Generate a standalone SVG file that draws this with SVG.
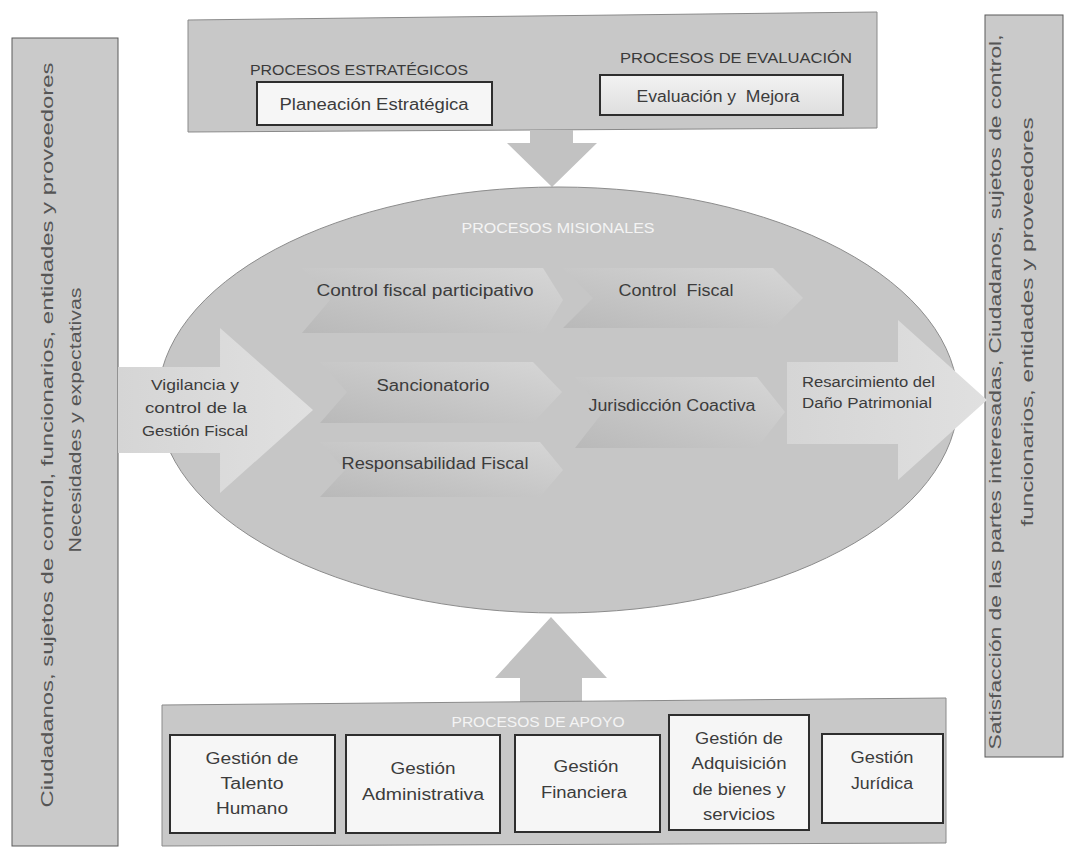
<svg xmlns="http://www.w3.org/2000/svg" width="1068" height="852" viewBox="0 0 1068 852">
<defs>
<linearGradient id="chev" x1="0" y1="1" x2="1" y2="0">
<stop offset="0" stop-color="#b9b9b9"/>
<stop offset="1" stop-color="#d6d6d6"/>
</linearGradient>
<linearGradient id="arr" x1="0" y1="0" x2="1" y2="0">
<stop offset="0" stop-color="#d5d5d5"/>
<stop offset="1" stop-color="#e0e0e0"/>
</linearGradient>
<linearGradient id="evalg" x1="0" y1="0" x2="0" y2="1">
<stop offset="0" stop-color="#f2f2f2"/>
<stop offset="1" stop-color="#dedede"/>
</linearGradient>
<style>
.bar{fill:#cacaca;stroke:#5a5a5a;stroke-width:1}
.band{fill:#c8c8c8;stroke:#8a8a8a;stroke-width:1}
.box{fill:#f6f6f6;stroke:#2e2e2e;stroke-width:2}
.chev{fill:url(#chev);stroke:none}
.bigarrow{fill:url(#arr);stroke:none}
.conn{fill:#c2c2c2;stroke:none}
text{font-family:"Liberation Sans",Arial,sans-serif;fill:#3c3c3c}
.cap{font-size:15px;fill:#3a3a3a}
.wcap{font-size:15px;fill:#f4f4f4}
.lbl{font-size:16px}
.side{font-size:17px;fill:#555555}
.mid{text-anchor:middle}
.pre{white-space:pre}
</style>
</defs>
<rect width="1068" height="852" fill="#ffffff"/>

<g id="stakeholders-left">
<rect class="bar" x="12" y="38" width="106" height="808"/>
<text class="side mid" transform="translate(53,435) rotate(-90)" textLength="745" lengthAdjust="spacingAndGlyphs">Ciudadanos, sujetos de control, funcionarios, entidades y proveedores</text>
<text class="side mid" transform="translate(81,420) rotate(-90)" textLength="265" lengthAdjust="spacingAndGlyphs">Necesidades y expectativas</text>
</g>

<g id="stakeholders-right">
<rect class="bar" x="985" y="15" width="78" height="742"/>
<text class="side mid" transform="translate(1001,392) rotate(-90)" textLength="715" lengthAdjust="spacingAndGlyphs">Satisfacción de las partes interesadas, Ciudadanos, sujetos de control,</text>
<text class="side mid" transform="translate(1033,322) rotate(-90)" textLength="409" lengthAdjust="spacingAndGlyphs">funcionarios, entidades y proveedores</text>
</g>

<g id="procesos-estrategicos-evaluacion">
<path class="band" d="M188 20 L877 12 L877 128 L188 132 Z"/>
<text class="cap" x="250" y="75" textLength="218" lengthAdjust="spacingAndGlyphs">PROCESOS ESTRATÉGICOS</text>
<text class="cap" x="620" y="63" textLength="232" lengthAdjust="spacingAndGlyphs">PROCESOS DE EVALUACIÓN</text>
</g>

<g id="planeacion-estrategica">
<rect class="box" x="257" y="82" width="235" height="43"/>
<text class="lbl mid" x="374" y="110" font-size="17" textLength="189" lengthAdjust="spacingAndGlyphs">Planeación Estratégica</text>
</g>

<g id="evaluacion-mejora">
<rect class="box" x="600" y="75" width="243" height="40" style="fill:url(#evalg)"/>
<text class="lbl mid pre" x="718" y="102" font-size="17" textLength="163" lengthAdjust="spacingAndGlyphs">Evaluación y  Mejora</text>
</g>

<g id="connectors">
<path class="conn" d="M530 130 L573 130 L573 143 L597 143 L552 187 L507 143 L530 143 Z"/>
<path class="conn" d="M520 703 L582 703 L582 678 L607 678 L551 617 L495 678 L520 678 Z"/>
</g>

<g id="procesos-misionales">
<ellipse cx="558" cy="400" rx="400" ry="213" fill="#c6c6c6" stroke="#8c8c8c" stroke-width="1"/>
<text class="wcap mid" x="558" y="233" textLength="193" lengthAdjust="spacingAndGlyphs">PROCESOS MISIONALES</text>
</g>

<g id="vigilancia-control">
<path class="bigarrow" d="M118 367 L220 367 L220 328 L313 410 L220 493 L220 453 L118 453 Z"/>
<text class="mid" x="195" y="390" font-size="15" textLength="88" lengthAdjust="spacingAndGlyphs">Vigilancia y</text>
<text class="mid" x="196" y="413" font-size="15" textLength="102" lengthAdjust="spacingAndGlyphs">control de la</text>
<text class="mid" x="195" y="436" font-size="15" textLength="106" lengthAdjust="spacingAndGlyphs">Gestión Fiscal</text>
</g>

<g id="control-fiscal-participativo">
<path class="chev" d="M302 268 L543 268 L563 300 L543 333 L302 333 L330 300 Z"/>
<text class="lbl mid" x="425" y="296" textLength="217" lengthAdjust="spacingAndGlyphs">Control fiscal participativo</text>
</g>

<g id="control-fiscal">
<path class="chev" d="M563 268 L773 268 L803 298 L773 328 L563 328 L593 298 Z"/>
<text class="lbl mid pre" x="676" y="296" textLength="115" lengthAdjust="spacingAndGlyphs">Control  Fiscal</text>
</g>

<g id="sancionatorio">
<path class="chev" d="M320 362 L533 362 L562 392 L533 423 L320 423 L347 392 Z"/>
<text class="lbl mid" x="433" y="391" textLength="113" lengthAdjust="spacingAndGlyphs">Sancionatorio</text>
</g>

<g id="jurisdiccion-coactiva">
<path class="chev" d="M575 377 L757 377 L785 412 L757 448 L575 448 L603 412 Z"/>
<text class="lbl mid" x="672" y="411" textLength="167" lengthAdjust="spacingAndGlyphs">Jurisdicción Coactiva</text>
</g>

<g id="responsabilidad-fiscal">
<path class="chev" d="M320 442 L540 442 L563 470 L540 497 L320 497 L345 470 Z"/>
<text class="lbl mid" x="435" y="469" textLength="187" lengthAdjust="spacingAndGlyphs">Responsabilidad Fiscal</text>
</g>

<g id="resarcimiento">
<path class="bigarrow" d="M787 362 L898 362 L898 320 L987 400 L898 480 L898 444 L787 444 Z"/>
<text x="802" y="387" font-size="14" textLength="133" lengthAdjust="spacingAndGlyphs">Resarcimiento del</text>
<text x="802" y="408" font-size="14" textLength="130" lengthAdjust="spacingAndGlyphs">Daño Patrimonial</text>
</g>

<g id="procesos-apoyo">
<path class="band" d="M162 705 L946 698 L946 843 L162 846 Z"/>
<text class="wcap mid" x="538" y="727" textLength="173" lengthAdjust="spacingAndGlyphs">PROCESOS DE APOYO</text>
</g>

<g id="talento-humano">
<rect class="box" x="170" y="735" width="165" height="98"/>
<text class="lbl mid" x="252" y="764" font-size="17" textLength="93" lengthAdjust="spacingAndGlyphs">Gestión de</text>
<text class="lbl mid" x="252" y="789" font-size="17" textLength="63" lengthAdjust="spacingAndGlyphs">Talento</text>
<text class="lbl mid" x="252" y="814" font-size="17" textLength="72" lengthAdjust="spacingAndGlyphs">Humano</text>
</g>

<g id="gestion-administrativa">
<rect class="box" x="346" y="735" width="154" height="98"/>
<text class="lbl mid" x="423" y="774" font-size="17" textLength="65" lengthAdjust="spacingAndGlyphs">Gestión</text>
<text class="lbl mid" x="423" y="800" font-size="17" textLength="122" lengthAdjust="spacingAndGlyphs">Administrativa</text>
</g>

<g id="gestion-financiera">
<rect class="box" x="515" y="735" width="145" height="97"/>
<text class="lbl mid" x="586" y="772" font-size="17" textLength="65" lengthAdjust="spacingAndGlyphs">Gestión</text>
<text class="lbl mid" x="584" y="798" font-size="17" textLength="86" lengthAdjust="spacingAndGlyphs">Financiera</text>
</g>

<g id="gestion-adquisicion">
<rect class="box" x="669" y="715" width="140" height="115"/>
<text class="lbl mid" x="739" y="744" font-size="17" textLength="88" lengthAdjust="spacingAndGlyphs">Gestión de</text>
<text class="lbl mid" x="739" y="769" font-size="17" textLength="95" lengthAdjust="spacingAndGlyphs">Adquisición</text>
<text class="lbl mid" x="739" y="795" font-size="17" textLength="93" lengthAdjust="spacingAndGlyphs">de bienes y</text>
<text class="lbl mid" x="739" y="820" font-size="17" textLength="72" lengthAdjust="spacingAndGlyphs">servicios</text>
</g>

<g id="gestion-juridica">
<rect class="box" x="822" y="734" width="121" height="89"/>
<text class="lbl mid" x="882" y="763" font-size="17" textLength="63" lengthAdjust="spacingAndGlyphs">Gestión</text>
<text class="lbl mid" x="882" y="789" font-size="17" textLength="62" lengthAdjust="spacingAndGlyphs">Jurídica</text>
</g>
</svg>
